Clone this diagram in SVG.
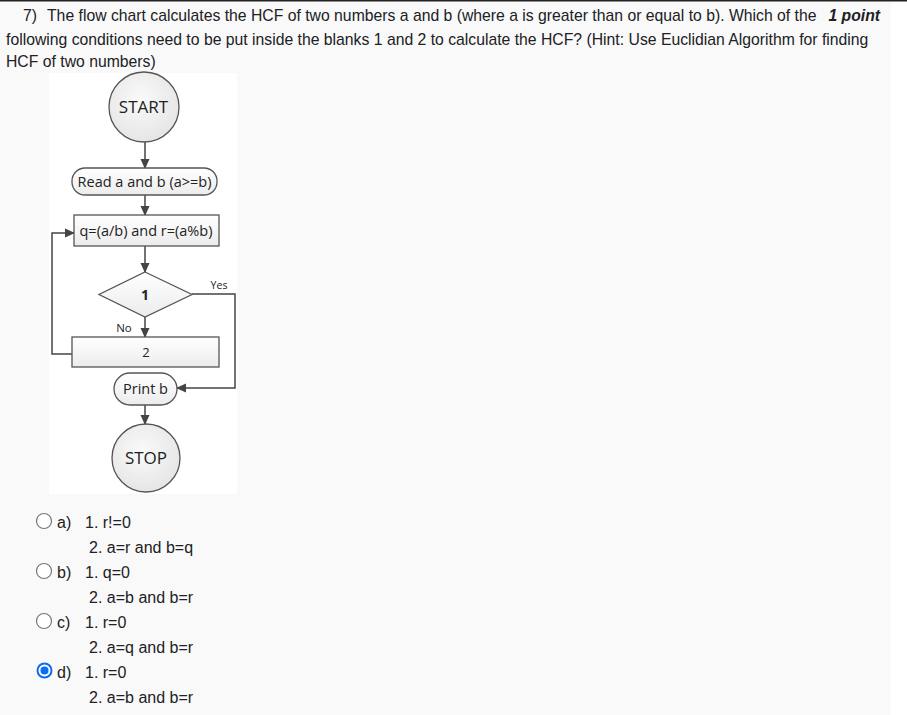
<svg xmlns="http://www.w3.org/2000/svg" width="907" height="715" viewBox="0 0 907 715">
  <defs>
    <style>
      .q { font-family: "Liberation Sans", Arial, sans-serif; font-size: 15.75px; fill: #202124; }
      .opt { font-family: "Liberation Sans", Arial, sans-serif; font-size: 16px; fill: #202124; }
      .fc { font-family: "Open Sans", "DejaVu Sans", sans-serif; font-size: 14.5px; fill: #222; text-anchor: middle; }
      .big { font-size: 17px; }
      .shape { stroke: #555; stroke-width: 1.3; }
      .conn { stroke: #444; stroke-width: 1.5; fill: none; }
      .radio { fill: #fff; stroke: #767676; stroke-width: 1.2; }
    </style>
    <linearGradient id="boxg" x1="0" y1="0" x2="0" y2="1">
      <stop offset="0" stop-color="#ffffff"/>
      <stop offset="1" stop-color="#ececec"/>
    </linearGradient>
    <radialGradient id="circg" cx="0.45" cy="0.4" r="0.65">
      <stop offset="0" stop-color="#fafafa"/>
      <stop offset="1" stop-color="#e4e4e4"/>
    </radialGradient>
    <marker id="arr" viewBox="0 0 10 10" refX="9" refY="5" markerWidth="10" markerHeight="10" orient="auto" markerUnits="userSpaceOnUse">
      <path d="M0,0.5 L10,5 L0,9.5 z" fill="#444"/>
    </marker>
  </defs>

  <rect x="0" y="0" width="907" height="715" fill="#ffffff"/>
  <rect x="0" y="0" width="891" height="715" fill="#f9f9f9"/>
  <line x1="0" y1="0.75" x2="907" y2="0.75" stroke="#222" stroke-width="1.5"/>

  <g id="question">
    <text class="q" x="23" y="21">7)</text>
    <text class="q" x="47" y="21">The flow chart calculates the HCF of two numbers a and b (where a is greater than or equal to b). Which of the</text>
    <text class="q" x="880" y="21" text-anchor="end" font-weight="bold" font-style="italic">1 point</text>
    <text class="q" x="6" y="45">following conditions need to be put inside the blanks 1 and 2 to calculate the HCF? (Hint: Use Euclidian Algorithm for finding</text>
    <text class="q" x="6" y="67">HCF of two numbers)</text>
  </g>

  <rect x="49" y="73" width="188" height="421" fill="#ffffff"/>

  <g id="connectors">
    <line class="conn" x1="145" y1="142" x2="145" y2="168" marker-end="url(#arr)"/>
    <line class="conn" x1="145" y1="195" x2="145" y2="215" marker-end="url(#arr)"/>
    <line class="conn" x1="145" y1="246" x2="145" y2="272" marker-end="url(#arr)"/>
    <line class="conn" x1="145" y1="317" x2="145" y2="337" marker-end="url(#arr)"/>
    <polyline class="conn" points="72,354 52,354 52,233 74,233" marker-end="url(#arr)"/>
    <polyline class="conn" points="192,294 235,294 235,388 177,388" marker-end="url(#arr)"/>
    <line class="conn" x1="145" y1="405" x2="145" y2="424" marker-end="url(#arr)"/>
    <text class="fc" x="219" y="289" style="font-size:10.5px">Yes</text>
    <text class="fc" x="124" y="332" style="font-size:11.5px">No</text>
  </g>

  <g id="start">
    <circle class="shape" cx="144" cy="107" r="35" fill="url(#circg)"/>
    <text class="fc big" x="143.5" y="112.5">START</text>
  </g>

  <g id="read">
    <rect class="shape" x="72" y="168" width="145" height="27" rx="13" fill="url(#boxg)"/>
    <text class="fc" x="144.5" y="187">Read a and b (a&gt;=b)</text>
  </g>

  <g id="compute">
    <rect class="shape" x="74" y="215" width="145" height="31" fill="url(#boxg)"/>
    <text class="fc" x="146" y="236">q=(a/b) and r=(a%b)</text>
  </g>

  <g id="decision">
    <polygon class="shape" points="145,272 192,294.5 145,317 99,294.5" fill="url(#boxg)"/>
    <text class="fc" x="145" y="300" font-weight="bold" style="font-size:14px">1</text>
  </g>

  <g id="blank2">
    <rect class="shape" x="72" y="337" width="147" height="30" fill="url(#boxg)"/>
    <text class="fc" x="146" y="357" style="font-size:13px">2</text>
  </g>

  <g id="print">
    <rect class="shape" x="114" y="373" width="63" height="32" rx="16" fill="url(#boxg)"/>
    <text class="fc" x="145.5" y="394">Print b</text>
  </g>

  <g id="stop">
    <circle class="shape" cx="146" cy="458" r="34" fill="url(#circg)"/>
    <text class="fc big" x="146" y="464">STOP</text>
  </g>

  <g id="options">
    <circle class="radio" cx="44" cy="521" r="7.5"/>
    <text class="opt" x="57" y="528">a)</text>
    <text class="opt" x="85" y="528">1. r!=0</text>
    <text class="opt" x="89" y="553">2. a=r and b=q</text>

    <circle class="radio" cx="44" cy="571" r="7.5"/>
    <text class="opt" x="57" y="578">b)</text>
    <text class="opt" x="85" y="578">1. q=0</text>
    <text class="opt" x="89" y="603">2. a=b and b=r</text>

    <circle class="radio" cx="44" cy="621" r="7.5"/>
    <text class="opt" x="57" y="628">c)</text>
    <text class="opt" x="85" y="628">1. r=0</text>
    <text class="opt" x="89" y="653">2. a=q and b=r</text>

    <circle cx="44.5" cy="670.5" r="7" fill="#fff" stroke="#0b6cf5" stroke-width="2"/>
    <circle cx="44.5" cy="670.5" r="4" fill="#0b6cf5"/>
    <text class="opt" x="57" y="678">d)</text>
    <text class="opt" x="85" y="678">1. r=0</text>
    <text class="opt" x="89" y="703">2. a=b and b=r</text>
  </g>
</svg>
